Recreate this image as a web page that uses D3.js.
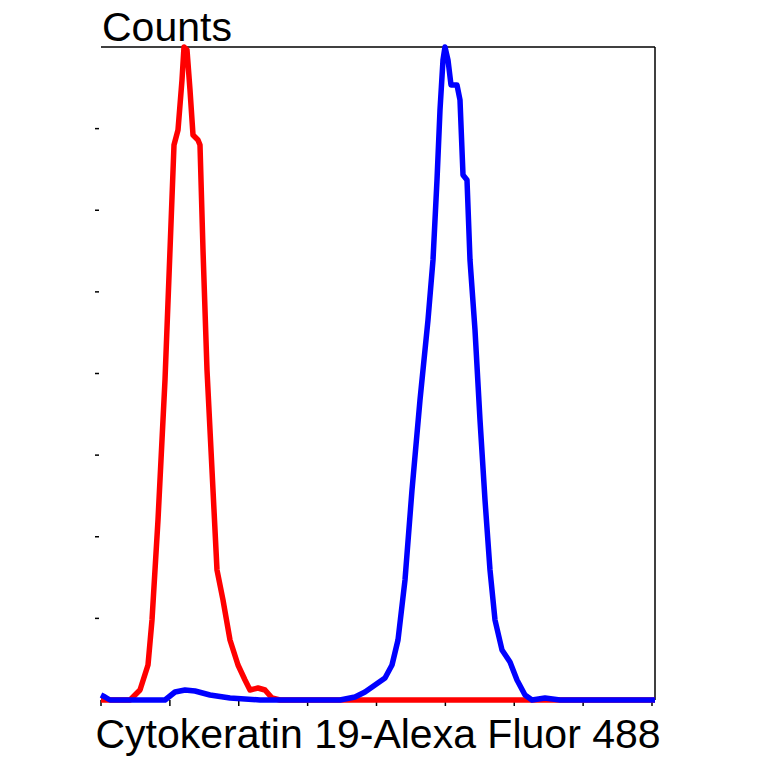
<!DOCTYPE html><html><head><script src="https://cdn.jsdelivr.net/npm/d3@7"></script>
<style>body{margin:0;background:#fff}</style></head><body><svg id="c" width="764" height="764"></svg>
<script>
// x in pixel-like channel units (0..554), y counts units (0..653)
const redX=[0,29,39,47,51,57,64,69,73,77,81,83,86,89,92,97,99,102,106,111,116,122,129,137,144,149,157,164,171,179,430,554];
const redY=[0,0,10,35,80,180,320,450,555,570,620,653,650,610,565,560,555,450,330,230,130,100,60,35,20,10,12,10,2,0,0,0];
const blueX=[0,4,9,64,74,84,94,109,129,159,239,254,264,274,284,291,297,304,311,319,327,332,336,339,342,344,347,350,356,359,362,366,369,374,379,384,389,394,401,409,416,424,431,444,459,554];
const blueY=[5,3,0,0,8,10,9,5,2,0,0,3,8,15,22,35,60,120,210,300,380,440,520,590,640,653,640,615,615,600,525,520,440,370,280,200,130,80,50,38,20,5,0,2,0,0];
const yTicks=[1,2,3,4,5,6,7];
const xTicks=[0,1,2,3,4,5,6,7,8];
const svg=d3.select("#c");
const x=d3.scaleLinear().domain([0,554]).range([101,655]);
const y=d3.scaleLinear().domain([0,653]).range([700,47]);
const yt=d3.scaleLinear().domain([0,8]).range([700,47]);
const xt=d3.scaleLinear().domain([0,8]).range([101,652]);
svg.append("line").attr("x1",101).attr("x2",655).attr("y1",47).attr("y2",47).attr("stroke","#000").attr("stroke-width",1.5);
svg.append("line").attr("x1",655).attr("x2",655).attr("y1",47).attr("y2",700).attr("stroke","#000").attr("stroke-width",1.5);
svg.selectAll(".yt").data(yTicks).join("line").attr("x1",95).attr("x2",99).attr("y1",d=>yt(d)).attr("y2",d=>yt(d)).attr("stroke","#000").attr("stroke-width",1.5);
svg.selectAll(".xt").data(xTicks).join("line").attr("x1",d=>xt(d)).attr("x2",d=>xt(d)).attr("y1",700).attr("y2",706).attr("stroke","#000").attr("stroke-width",1.5);
const line=d3.line().x(d=>x(d[0])).y(d=>y(d[1]));
svg.append("path").attr("d",line(d3.zip(redX,redY))).attr("fill","none").attr("stroke","#ff0000").attr("stroke-width",5.5).attr("stroke-linejoin","round");
svg.append("path").attr("d",line(d3.zip(blueX,blueY))).attr("fill","none").attr("stroke","#0000ff").attr("stroke-width",5.5).attr("stroke-linejoin","round");
svg.append("text").attr("x",102).attr("y",41).attr("font-family","Liberation Sans, Arial").attr("font-size",41).text("Counts");
svg.append("text").attr("x",378).attr("y",748).attr("text-anchor","middle").attr("font-family","Liberation Sans, Arial").attr("font-size",41).text("Cytokeratin 19-Alexa Fluor 488");
</script></body></html>
